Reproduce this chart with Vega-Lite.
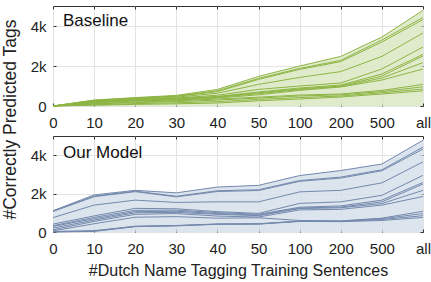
{
  "$schema": "https://vega.github.io/schema/vega-lite/v6.json",
  "padding": {"left": 0, "top": 5, "right": 0, "bottom": 0},
  "bounds": "flush",
  "spacing": 30,
  "config": {
    "font": "Liberation Sans",
    "view": {"stroke": "#333333", "strokeWidth": 1},
    "axis": {
      "domain": false,
      "gridColor": "#e3e3e3",
      "tickColor": "#333333",
      "tickSize": -3,
      "labelColor": "#222222",
      "labelFontSize": 15,
      "titleFontSize": 16,
      "titleFontWeight": "normal",
      "titleColor": "#222222"
    },
    "text": {"font": "Liberation Sans", "fontSize": 17, "color": "#111111", "align": "left", "baseline": "top", "dx": 10, "dy": 7}
  },
  "datasets": {
    "tags": [
      {"p":"B","s":1,"n":"0","v":0},{"p":"B","s":1,"n":"10","v":300},{"p":"B","s":1,"n":"20","v":420},{"p":"B","s":1,"n":"30","v":530},{"p":"B","s":1,"n":"40","v":830},{"p":"B","s":1,"n":"50","v":1480},{"p":"B","s":1,"n":"100","v":2000},{"p":"B","s":1,"n":"200","v":2480},{"p":"B","s":1,"n":"500","v":3450},{"p":"B","s":1,"n":"all","v":4780},
      {"p":"B","s":2,"n":"0","v":0},{"p":"B","s":2,"n":"10","v":280},{"p":"B","s":2,"n":"20","v":400},{"p":"B","s":2,"n":"30","v":500},{"p":"B","s":2,"n":"40","v":760},{"p":"B","s":2,"n":"50","v":1380},{"p":"B","s":2,"n":"100","v":1880},{"p":"B","s":2,"n":"200","v":2280},{"p":"B","s":2,"n":"500","v":3300},{"p":"B","s":2,"n":"all","v":4420},
      {"p":"B","s":3,"n":"0","v":0},{"p":"B","s":3,"n":"10","v":270},{"p":"B","s":3,"n":"20","v":380},{"p":"B","s":3,"n":"30","v":480},{"p":"B","s":3,"n":"40","v":720},{"p":"B","s":3,"n":"50","v":1330},{"p":"B","s":3,"n":"100","v":1830},{"p":"B","s":3,"n":"200","v":2220},{"p":"B","s":3,"n":"500","v":3200},{"p":"B","s":3,"n":"all","v":4320},
      {"p":"B","s":4,"n":"0","v":0},{"p":"B","s":4,"n":"10","v":250},{"p":"B","s":4,"n":"20","v":350},{"p":"B","s":4,"n":"30","v":440},{"p":"B","s":4,"n":"40","v":640},{"p":"B","s":4,"n":"50","v":1080},{"p":"B","s":4,"n":"100","v":1430},{"p":"B","s":4,"n":"200","v":1720},{"p":"B","s":4,"n":"500","v":2480},{"p":"B","s":4,"n":"all","v":3650},
      {"p":"B","s":5,"n":"0","v":0},{"p":"B","s":5,"n":"10","v":220},{"p":"B","s":5,"n":"20","v":320},{"p":"B","s":5,"n":"30","v":400},{"p":"B","s":5,"n":"40","v":540},{"p":"B","s":5,"n":"50","v":830},{"p":"B","s":5,"n":"100","v":1000},{"p":"B","s":5,"n":"200","v":1150},{"p":"B","s":5,"n":"500","v":1850},{"p":"B","s":5,"n":"all","v":2950},
      {"p":"B","s":6,"n":"0","v":0},{"p":"B","s":6,"n":"10","v":200},{"p":"B","s":6,"n":"20","v":300},{"p":"B","s":6,"n":"30","v":370},{"p":"B","s":6,"n":"40","v":480},{"p":"B","s":6,"n":"50","v":700},{"p":"B","s":6,"n":"100","v":900},{"p":"B","s":6,"n":"200","v":1050},{"p":"B","s":6,"n":"500","v":1600},{"p":"B","s":6,"n":"all","v":2580},
      {"p":"B","s":7,"n":"0","v":0},{"p":"B","s":7,"n":"10","v":190},{"p":"B","s":7,"n":"20","v":290},{"p":"B","s":7,"n":"30","v":350},{"p":"B","s":7,"n":"40","v":460},{"p":"B","s":7,"n":"50","v":660},{"p":"B","s":7,"n":"100","v":860},{"p":"B","s":7,"n":"200","v":1000},{"p":"B","s":7,"n":"500","v":1500},{"p":"B","s":7,"n":"all","v":2500},
      {"p":"B","s":8,"n":"0","v":0},{"p":"B","s":8,"n":"10","v":180},{"p":"B","s":8,"n":"20","v":270},{"p":"B","s":8,"n":"30","v":330},{"p":"B","s":8,"n":"40","v":430},{"p":"B","s":8,"n":"50","v":620},{"p":"B","s":8,"n":"100","v":820},{"p":"B","s":8,"n":"200","v":980},{"p":"B","s":8,"n":"500","v":1400},{"p":"B","s":8,"n":"all","v":2170},
      {"p":"B","s":9,"n":"0","v":0},{"p":"B","s":9,"n":"10","v":160},{"p":"B","s":9,"n":"20","v":250},{"p":"B","s":9,"n":"30","v":300},{"p":"B","s":9,"n":"40","v":400},{"p":"B","s":9,"n":"50","v":560},{"p":"B","s":9,"n":"100","v":780},{"p":"B","s":9,"n":"200","v":950},{"p":"B","s":9,"n":"500","v":1300},{"p":"B","s":9,"n":"all","v":1850},
      {"p":"B","s":10,"n":"0","v":0},{"p":"B","s":10,"n":"10","v":120},{"p":"B","s":10,"n":"20","v":200},{"p":"B","s":10,"n":"30","v":260},{"p":"B","s":10,"n":"40","v":350},{"p":"B","s":10,"n":"50","v":440},{"p":"B","s":10,"n":"100","v":550},{"p":"B","s":10,"n":"200","v":600},{"p":"B","s":10,"n":"500","v":780},{"p":"B","s":10,"n":"all","v":1080},
      {"p":"B","s":11,"n":"0","v":0},{"p":"B","s":11,"n":"10","v":100},{"p":"B","s":11,"n":"20","v":170},{"p":"B","s":11,"n":"30","v":220},{"p":"B","s":11,"n":"40","v":300},{"p":"B","s":11,"n":"50","v":400},{"p":"B","s":11,"n":"100","v":500},{"p":"B","s":11,"n":"200","v":560},{"p":"B","s":11,"n":"500","v":720},{"p":"B","s":11,"n":"all","v":960},
      {"p":"B","s":12,"n":"0","v":0},{"p":"B","s":12,"n":"10","v":60},{"p":"B","s":12,"n":"20","v":120},{"p":"B","s":12,"n":"30","v":160},{"p":"B","s":12,"n":"40","v":220},{"p":"B","s":12,"n":"50","v":330},{"p":"B","s":12,"n":"100","v":420},{"p":"B","s":12,"n":"200","v":500},{"p":"B","s":12,"n":"500","v":660},{"p":"B","s":12,"n":"all","v":850},
      {"p":"B","s":13,"n":"0","v":0},{"p":"B","s":13,"n":"10","v":40},{"p":"B","s":13,"n":"20","v":80},{"p":"B","s":13,"n":"30","v":110},{"p":"B","s":13,"n":"40","v":150},{"p":"B","s":13,"n":"50","v":260},{"p":"B","s":13,"n":"100","v":350},{"p":"B","s":13,"n":"200","v":450},{"p":"B","s":13,"n":"500","v":600},{"p":"B","s":13,"n":"all","v":760},
      {"p":"O","s":1,"n":"0","v":1110},{"p":"O","s":1,"n":"10","v":1930},{"p":"O","s":1,"n":"20","v":2170},{"p":"O","s":1,"n":"30","v":2040},{"p":"O","s":1,"n":"40","v":2340},{"p":"O","s":1,"n":"50","v":2430},{"p":"O","s":1,"n":"100","v":2940},{"p":"O","s":1,"n":"200","v":3200},{"p":"O","s":1,"n":"500","v":3540},{"p":"O","s":1,"n":"all","v":4780},
      {"p":"O","s":2,"n":"0","v":1090},{"p":"O","s":2,"n":"10","v":1870},{"p":"O","s":2,"n":"20","v":2130},{"p":"O","s":2,"n":"30","v":1860},{"p":"O","s":2,"n":"40","v":2150},{"p":"O","s":2,"n":"50","v":2200},{"p":"O","s":2,"n":"100","v":2680},{"p":"O","s":2,"n":"200","v":2860},{"p":"O","s":2,"n":"500","v":3240},{"p":"O","s":2,"n":"all","v":4420},
      {"p":"O","s":3,"n":"0","v":1070},{"p":"O","s":3,"n":"10","v":1840},{"p":"O","s":3,"n":"20","v":2100},{"p":"O","s":3,"n":"30","v":1830},{"p":"O","s":3,"n":"40","v":2110},{"p":"O","s":3,"n":"50","v":2160},{"p":"O","s":3,"n":"100","v":2640},{"p":"O","s":3,"n":"200","v":2810},{"p":"O","s":3,"n":"500","v":3190},{"p":"O","s":3,"n":"all","v":4320},
      {"p":"O","s":4,"n":"0","v":750},{"p":"O","s":4,"n":"10","v":1400},{"p":"O","s":4,"n":"20","v":1660},{"p":"O","s":4,"n":"30","v":1540},{"p":"O","s":4,"n":"40","v":1570},{"p":"O","s":4,"n":"50","v":1570},{"p":"O","s":4,"n":"100","v":2090},{"p":"O","s":4,"n":"200","v":2170},{"p":"O","s":4,"n":"500","v":2560},{"p":"O","s":4,"n":"all","v":3650},
      {"p":"O","s":5,"n":"0","v":410},{"p":"O","s":5,"n":"10","v":840},{"p":"O","s":5,"n":"20","v":1230},{"p":"O","s":5,"n":"30","v":1210},{"p":"O","s":5,"n":"40","v":1060},{"p":"O","s":5,"n":"50","v":970},{"p":"O","s":5,"n":"100","v":1490},{"p":"O","s":5,"n":"200","v":1570},{"p":"O","s":5,"n":"500","v":1910},{"p":"O","s":5,"n":"all","v":2950},
      {"p":"O","s":6,"n":"0","v":330},{"p":"O","s":6,"n":"10","v":760},{"p":"O","s":6,"n":"20","v":1130},{"p":"O","s":6,"n":"30","v":1140},{"p":"O","s":6,"n":"40","v":1010},{"p":"O","s":6,"n":"50","v":920},{"p":"O","s":6,"n":"100","v":1290},{"p":"O","s":6,"n":"200","v":1360},{"p":"O","s":6,"n":"500","v":1660},{"p":"O","s":6,"n":"all","v":2580},
      {"p":"O","s":7,"n":"0","v":290},{"p":"O","s":7,"n":"10","v":690},{"p":"O","s":7,"n":"20","v":1060},{"p":"O","s":7,"n":"30","v":1080},{"p":"O","s":7,"n":"40","v":960},{"p":"O","s":7,"n":"50","v":880},{"p":"O","s":7,"n":"100","v":1250},{"p":"O","s":7,"n":"200","v":1300},{"p":"O","s":7,"n":"500","v":1570},{"p":"O","s":7,"n":"all","v":2500},
      {"p":"O","s":8,"n":"0","v":205},{"p":"O","s":8,"n":"10","v":620},{"p":"O","s":8,"n":"20","v":1000},{"p":"O","s":8,"n":"30","v":1020},{"p":"O","s":8,"n":"40","v":920},{"p":"O","s":8,"n":"50","v":850},{"p":"O","s":8,"n":"100","v":1220},{"p":"O","s":8,"n":"200","v":1260},{"p":"O","s":8,"n":"500","v":1480},{"p":"O","s":8,"n":"all","v":2170},
      {"p":"O","s":9,"n":"0","v":120},{"p":"O","s":9,"n":"10","v":550},{"p":"O","s":9,"n":"20","v":920},{"p":"O","s":9,"n":"30","v":960},{"p":"O","s":9,"n":"40","v":830},{"p":"O","s":9,"n":"50","v":780},{"p":"O","s":9,"n":"100","v":1150},{"p":"O","s":9,"n":"200","v":1180},{"p":"O","s":9,"n":"500","v":1400},{"p":"O","s":9,"n":"all","v":1850},
      {"p":"O","s":10,"n":"0","v":60},{"p":"O","s":10,"n":"10","v":430},{"p":"O","s":10,"n":"20","v":770},{"p":"O","s":10,"n":"30","v":800},{"p":"O","s":10,"n":"40","v":720},{"p":"O","s":10,"n":"50","v":740},{"p":"O","s":10,"n":"100","v":600},{"p":"O","s":10,"n":"200","v":580},{"p":"O","s":10,"n":"500","v":720},{"p":"O","s":10,"n":"all","v":1080},
      {"p":"O","s":11,"n":"0","v":30},{"p":"O","s":11,"n":"10","v":70},{"p":"O","s":11,"n":"20","v":300},{"p":"O","s":11,"n":"30","v":340},{"p":"O","s":11,"n":"40","v":420},{"p":"O","s":11,"n":"50","v":430},{"p":"O","s":11,"n":"100","v":570},{"p":"O","s":11,"n":"200","v":560},{"p":"O","s":11,"n":"500","v":690},{"p":"O","s":11,"n":"all","v":960},
      {"p":"O","s":12,"n":"0","v":10},{"p":"O","s":12,"n":"10","v":50},{"p":"O","s":12,"n":"20","v":290},{"p":"O","s":12,"n":"30","v":330},{"p":"O","s":12,"n":"40","v":410},{"p":"O","s":12,"n":"50","v":420},{"p":"O","s":12,"n":"100","v":560},{"p":"O","s":12,"n":"200","v":550},{"p":"O","s":12,"n":"500","v":650},{"p":"O","s":12,"n":"all","v":850},
      {"p":"O","s":13,"n":"0","v":0},{"p":"O","s":13,"n":"10","v":30},{"p":"O","s":13,"n":"20","v":280},{"p":"O","s":13,"n":"30","v":320},{"p":"O","s":13,"n":"40","v":400},{"p":"O","s":13,"n":"50","v":410},{"p":"O","s":13,"n":"100","v":550},{"p":"O","s":13,"n":"200","v":540},{"p":"O","s":13,"n":"500","v":600},{"p":"O","s":13,"n":"all","v":760}
    ]
  },
  "vconcat": [
    {
      "width": 370,
      "height": 100,
      "data": {"name": "tags"},
      "transform": [{"filter": "datum.p == 'B'"}],
      "layer": [
        {
          "mark": {"type": "area", "color": "#d8e6bf", "opacity": 0.8},
          "encoding": {
            "x": {"field": "n", "type": "ordinal", "sort": ["0","10","20","30","40","50","100","200","500","all"], "scale": {"type": "point", "padding": 0},
                  "axis": {"title": null, "labelAngle": 0, "labelPadding": 12, "grid": true}},
            "y": {"aggregate": "max", "field": "v", "type": "quantitative", "scale": {"domain": [0, 5000]},
                  "axis": {"values": [0, 2000, 4000], "labelExpr": "datum.value == 0 ? '0' : datum.value / 1000 + 'k'", "labelPadding": 10, "grid": true,
                           "title": "#Correctly Predicted Tags", "titleFontSize": 17.5, "titleX": -43, "titleY": 113, "titleBaseline": "middle"}}
          }
        },
        {
          "mark": {"type": "line", "color": "#8db543", "strokeWidth": 1},
          "encoding": {
            "x": {"field": "n", "type": "ordinal", "sort": ["0","10","20","30","40","50","100","200","500","all"],
                  "axis": {"orient": "top", "labels": false, "grid": false, "title": null}},
            "y": {"field": "v", "type": "quantitative",
                  "axis": {"orient": "right", "values": [0, 2000, 4000], "labels": false, "grid": false, "title": null}},
            "detail": {"field": "s"}
          }
        },
        {
          "data": {"values": [{"p": "B", "label": "Baseline"}]},
          "mark": {"type": "text"},
          "encoding": {
            "x": {"datum": "0", "type": "ordinal", "axis": null},
            "y": {"datum": 5000, "type": "quantitative", "axis": null},
            "text": {"field": "label"}
          }
        }
      ],
      "resolve": {"axis": {"x": "independent", "y": "independent"}}
    },
    {
      "width": 370,
      "height": 96,
      "data": {"name": "tags"},
      "transform": [{"filter": "datum.p == 'O'"}],
      "layer": [
        {
          "mark": {"type": "area", "color": "#d3ddea", "opacity": 0.8},
          "encoding": {
            "x": {"field": "n", "type": "ordinal", "sort": ["0","10","20","30","40","50","100","200","500","all"], "scale": {"type": "point", "padding": 0},
                  "axis": {"title": "#Dutch Name Tagging Training Sentences", "labelAngle": 0, "labelPadding": 12, "titlePadding": 6, "grid": true}},
            "y": {"aggregate": "max", "field": "v", "type": "quantitative", "scale": {"domain": [0, 4900]},
                  "axis": {"values": [0, 2000, 4000], "labelExpr": "datum.value == 0 ? '0' : datum.value / 1000 + 'k'", "labelPadding": 10, "grid": true, "title": null}}
          }
        },
        {
          "mark": {"type": "line", "color": "#7489ad", "strokeWidth": 1},
          "encoding": {
            "x": {"field": "n", "type": "ordinal", "sort": ["0","10","20","30","40","50","100","200","500","all"],
                  "axis": {"orient": "top", "labels": false, "grid": false, "title": null}},
            "y": {"field": "v", "type": "quantitative",
                  "axis": {"orient": "right", "values": [0, 2000, 4000], "labels": false, "grid": false, "title": null}},
            "detail": {"field": "s"}
          }
        },
        {
          "data": {"values": [{"p": "O", "label": "Our Model"}]},
          "mark": {"type": "text"},
          "encoding": {
            "x": {"datum": "0", "type": "ordinal", "axis": null},
            "y": {"datum": 4900, "type": "quantitative", "axis": null},
            "text": {"field": "label"}
          }
        }
      ],
      "resolve": {"axis": {"x": "independent", "y": "independent"}}
    }
  ]
}
